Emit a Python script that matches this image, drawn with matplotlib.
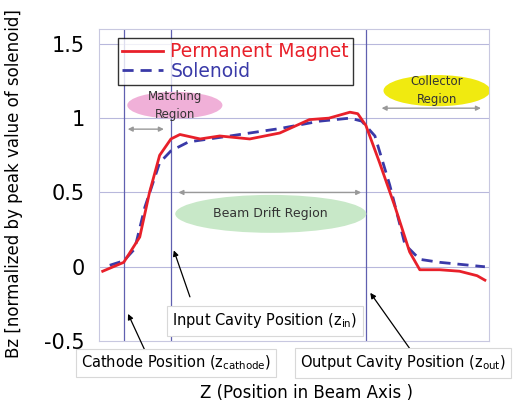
import matplotlib
matplotlib.use("Agg")
import matplotlib.pyplot as plt
from matplotlib.patches import Ellipse

pm_x = [1, 6.4, 10.5, 13, 15.6, 18.5, 20.8, 26, 31, 38.7, 46.4, 54, 59, 64.4, 66.4, 68.5, 72, 76, 79.7, 82.3, 87.4, 92.5, 97, 99]
pm_y = [-0.03, 0.03, 0.2, 0.5, 0.75, 0.86, 0.89, 0.86, 0.88, 0.86, 0.9, 0.99, 1.0, 1.04, 1.03, 0.95, 0.7, 0.4, 0.1, -0.02, -0.02, -0.03, -0.06, -0.09]
sol_x = [2.8, 6.4, 9.2, 11.8, 15.6, 18.5, 23, 33.6, 46.4, 56.7, 64.4, 67.4, 70.8, 74.6, 78.5, 82.3, 87.4, 99]
sol_y = [0.01, 0.04, 0.12, 0.4, 0.7, 0.78, 0.84, 0.88, 0.93, 0.98, 1.0, 0.98, 0.88, 0.55, 0.15, 0.05, 0.03, 0.0]
vlines = [6.4, 18.5, 68.5]
yticks = [-0.5, 0, 0.5, 1, 1.5]
ytick_labels = ["-0.5", "0", "0.5", "1", "1.5"]

fig = plt.figure(figsize=(5.2, 4.08), dpi=100)
ax = fig.add_axes([0.19, 0.164, 0.75, 0.765])
ax.set_xlim(0, 100)
ax.set_ylim(-0.5, 1.6)
ax.set_yticks(yticks)
ax.set_yticklabels(ytick_labels, fontsize=15)
ax.set_xticks([])
ax.tick_params(length=0, pad=10)
for s in ax.spines.values():
    s.set_color("#c8c8e0")
grid_c = "#b8b8dc"
for y in [0, 0.5, 1, 1.5]:
    ax.axhline(y, color=grid_c, lw=0.8, zorder=0)
for x in vlines:
    ax.axvline(x, color="#6060b0", lw=0.9, zorder=0)

ax.add_patch(Ellipse((19.5, 1.087), 24.4, 0.18, color="#f0b0d8", lw=0, zorder=1))
ax.add_patch(Ellipse((86.7, 1.185), 27.4, 0.21, color="#f0ea10", lw=0, zorder=1))
ax.add_patch(Ellipse((44.1, 0.356), 49, 0.255, color="#c8e8c8", lw=0, zorder=1))
ax.text(19.5, 1.087, "Matching\nRegion", ha="center", va="center", fontsize=8.5, color="#333333", linespacing=1.5)
ax.text(86.7, 1.185, "Collector\nRegion", ha="center", va="center", fontsize=8.5, color="#333333", linespacing=1.5)
ax.text(44.1, 0.356, "Beam Drift Region", ha="center", va="center", fontsize=9, color="#333333")

ga = dict(arrowstyle="<|-|>", color="#999999", lw=1, mutation_scale=7)
ax.annotate("", xy=(6.7, 0.926), xytext=(17.4, 0.926), arrowprops=ga)
ax.annotate("", xy=(19.7, 0.5), xytext=(68, 0.5), arrowprops=ga)
ax.annotate("", xy=(71.8, 1.067), xytext=(98.7, 1.067), arrowprops=ga)

ax.plot(sol_x, sol_y, color="#3a3aa8", lw=2, ls=(0, (4, 2.5)), zorder=3)
ax.plot(pm_x, pm_y, color="#e8202a", lw=2, zorder=4)

ba = dict(arrowstyle="-|>", color="black", lw=0.9, mutation_scale=8)
ax.annotate("", xy=(19, 0.128), xytext=(23.6, -0.22), arrowprops=ba, annotation_clip=False)
ax.annotate("", xy=(7.2, -0.30), xytext=(12.3, -0.59), arrowprops=ba, annotation_clip=False)
ax.annotate("", xy=(69.2, -0.16), xytext=(80.8, -0.59), arrowprops=ba, annotation_clip=False)

bb = dict(boxstyle="square,pad=0.35", fc="white", ec="#d8d8d8", lw=0.8)
fig.text(265/520, 1-321/408, r"Input Cavity Position (z$_{\rm in}$)", ha="center", va="center", fontsize=10.5, bbox=bb)
fig.text(176/520, 1-363/408, r"Cathode Position (z$_{\rm cathode}$)", ha="center", va="center", fontsize=10.5, bbox=bb)
fig.text(403/520, 1-363/408, r"Output Cavity Position (z$_{\rm out}$)", ha="center", va="center", fontsize=10.5, bbox=bb)
fig.text(306/520, 1-393/408, "Z (Position in Beam Axis )", ha="center", va="center", fontsize=12)
fig.text(14/520, 0.55, "Bz [normalized by peak value of solenoid]", rotation=90, ha="center", va="center", fontsize=12)

from matplotlib.lines import Line2D
h = [Line2D([], [], color="#e8202a", lw=2), Line2D([], [], color="#3a3aa8", lw=2, ls=(0, (4, 2.5)))]
leg = ax.legend(h, ["Permanent Magnet", "Solenoid"], loc="upper left", bbox_to_anchor=(0.025, 1.0),
                fontsize=13.5, frameon=True, fancybox=False, edgecolor="black", handlelength=2.2,
                borderpad=0.2, labelspacing=0.05, handletextpad=0.4)
for t, c in zip(leg.get_texts(), ["#e8202a", "#3a3aa8"]):
    t.set_color(c)
leg.get_frame().set_linewidth(1)
fig.savefig("out.png", dpi=100)
